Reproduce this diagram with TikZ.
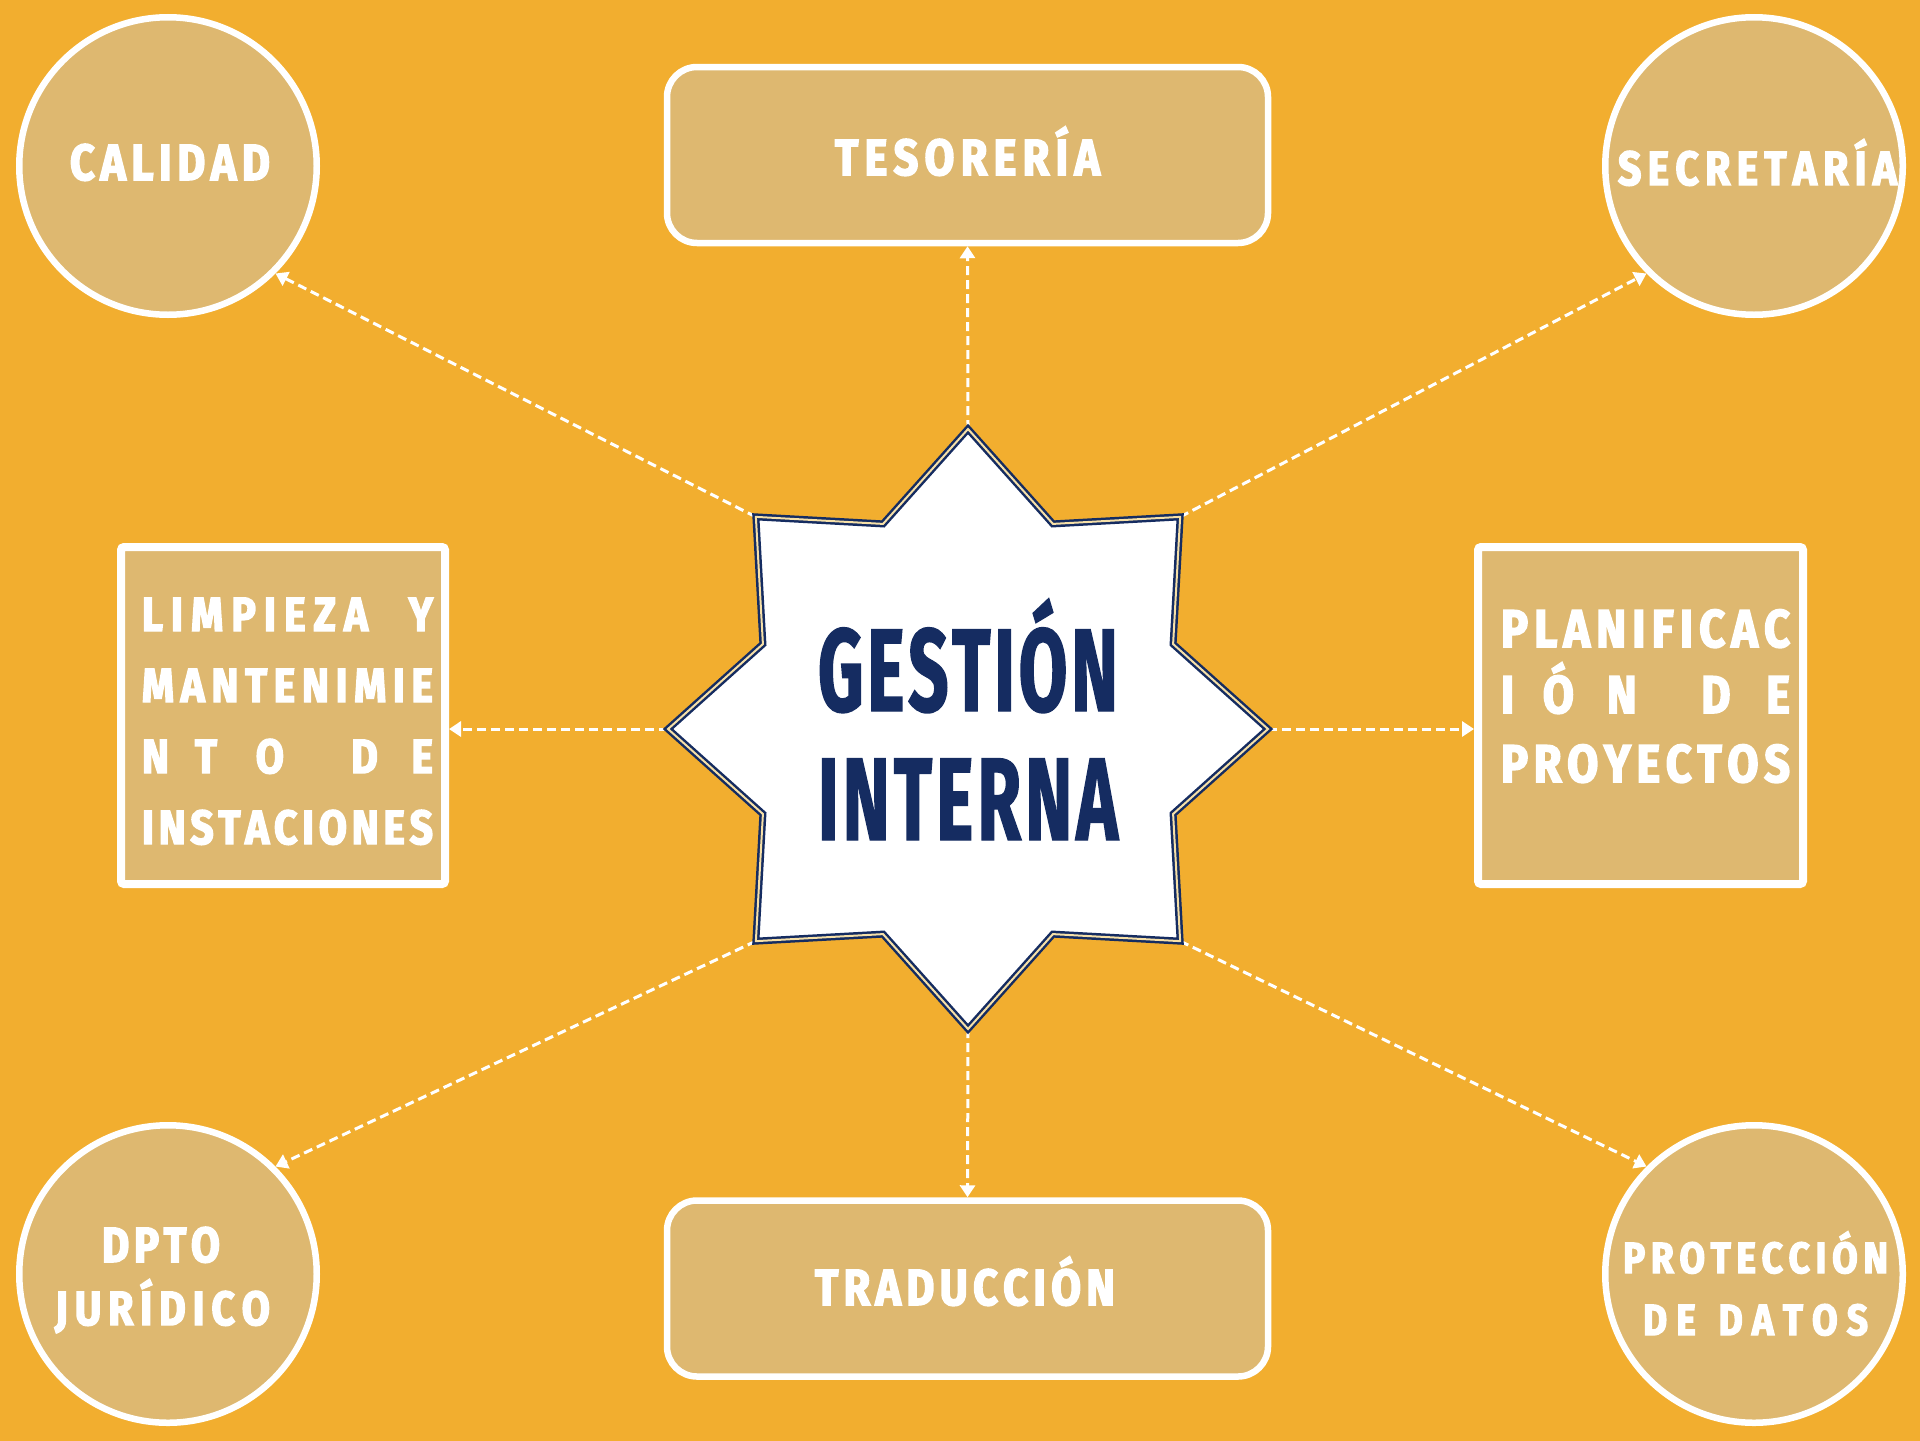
\documentclass[tikz,border=0pt]{standalone}
\usepackage{fontspec}
\usetikzlibrary{arrows.meta}
\newfontfamily\labf{Fira Sans}[FakeStretch=0.85, FakeBold=3]
\newfontfamily\titf{Fira Sans}[FakeStretch=0.6, FakeBold=1.2]
\definecolor{bg}{RGB}{242,174,47}
\definecolor{boxfill}{RGB}{222,184,112}
\definecolor{navy}{RGB}{21,44,97}
\definecolor{cream}{RGB}{246,224,168}
\def\lsp{\hspace{0pt plus 1fill}}
\def\lspw#1{\hspace{0pt plus #1fill}}
\begin{document}
\begin{tikzpicture}[x=0.5pt,y=-0.5pt,
  circ/.style={circle, draw=white, line width=3.25pt, fill=boxfill, minimum size=148.75pt, inner sep=0pt},
  rbox/.style={rectangle, rounded corners=15pt, draw=white, line width=3.25pt, fill=boxfill, minimum width=300.5pt, minimum height=88pt, inner sep=0pt},
  sbox/.style={rectangle, rounded corners=1.5pt, draw=white, line width=4pt, fill=boxfill, inner sep=0pt, minimum height=168.5pt},
  lab/.style={anchor=base, inner sep=0pt, text=white, font=\labf\bfseries\fontsize{#1}{30pt}\selectfont},
  lab/.default=25.4pt,
  tit/.style={anchor=base, inner sep=0pt, text=navy, font=\titf\bfseries\fontsize{58.8pt}{60pt}\selectfont},
  starst/.style={draw=navy, line width=1.25pt, double=cream, double distance=1pt, fill=white, line join=miter},
  conn/.style={draw=white, line width=1.5pt, dash pattern=on 4.5pt off 2.5pt, -{Triangle[length=6pt,width=7.5pt]}}
]
\useasboundingbox (0,0) rectangle (1920,1440);
\fill[bg] (-10,-10) rectangle (1930,1450);
% outer shapes
\node[circ] (calidad) at (168,166) {};
\node[circ] (secret) at (1754,166) {};
\node[circ] (dpto) at (168,1274) {};
\node[circ] (prot) at (1754,1274) {};
\node[rbox] (teso) at (967.5,155) {};
\node[rbox] (trad) at (967.5,1288.5) {};
\node[sbox, minimum width=162pt] (limp) at (283,715.5) {};
\node[sbox, minimum width=162.5pt] (plan) at (1640.5,715.5) {};
% star tips
\coordinate (c) at (968,729);
\foreach \a in {0,45,...,315} \path (c) ++(\a:150pt) coordinate (st\a);
% connectors
\draw[conn] (st90) -- (teso.south);
\draw[conn] (st270) -- (trad.north);
\draw[conn] (st180) -- (st180 -| limp.east);
\draw[conn] (st0) -- (st0 -| plan.west);
\draw[conn] (st135) -- (calidad.-45);
\draw[conn] (st45) -- (secret.-135);
\draw[conn] (st225) -- (dpto.45);
\draw[conn] (st315) -- (prot.135);
% star
\draw[starst, shift={(968,729)}] (0:150pt) \foreach \a in {0,45,...,270} { -- (\a+22.5:111pt) -- (\a+45:150pt) } -- (337.5:111pt) -- cycle;
% labels
\node[lab] (tcal) at (170,180) {\makebox[100pt]{C\lsp A\lsp L\lsp I\lsp D\lsp A\lsp D}};
\node[lab] (tteso) at (967.5,175) {\makebox[132.5pt]{T\lsp E\lsp S\lsp O\lsp R\lsp E\lsp R\lsp Í\lsp A}};
\node[lab=24pt] (tsec) at (1757.5,185) {\makebox[139.5pt]{S\lsp E\lsp C\lsp R\lsp E\lsp T\lsp A\lsp R\lsp Í\lsp A}};
\node[lab=24.7pt] (tdp1) at (161,1262) {\makebox[59pt]{D\lsp P\lsp T\lsp O}};
\node[lab=24pt] (tdp2) at (162.5,1325) {\makebox[107.5pt]{J\lsp U\lsp R\lsp Í\lsp D\lsp I\lsp C\lsp O}};
\node[lab] (ttrad) at (965,1305) {\makebox[150pt]{T\lsp R\lsp A\lsp D\lsp U\lsp C\lsp C\lsp I\lsp Ó\lsp N}};
\node[lab=21.8pt] (tpr1) at (1755.5,1273) {\makebox[132.5pt]{P\lsp R\lsp O\lsp T\lsp E\lsp C\lsp C\lsp I\lsp Ó\lsp N}};
\node[lab=21.8pt] (tpr2) at (1755.5,1335) {\makebox[112.5pt]{D\lsp E\lspw{2.5}D\lsp A\lsp T\lsp O\lsp S}};
% limpieza
\node[lab=24pt] (l1) at (287.5,631) {\makebox[145.5pt]{L\lsp I\lsp M\lsp P\lsp I\lsp E\lsp Z\lsp A\lspw{5}Y}};
\node[lab=24pt] (l2) at (287.5,702) {\makebox[145.5pt]{M\lsp A\lsp N\lsp T\lsp E\lsp N\lsp I\lsp M\lsp I\lsp E}};
\node[lab=24pt] (l3) at (287.5,773) {\makebox[145.5pt]{N\lsp T\lspw{1.5}O\lspw{2.6}D\lspw{1.3}E}};
\node[lab=24pt] (l4) at (287.5,844) {\makebox[145.5pt]{I\lsp N\lsp S\lsp T\lsp A\lsp C\lsp I\lsp O\lsp N\lsp E\lsp S}};
% planificacion
\node[lab=26.5pt] (p1) at (1645.5,647) {\makebox[144.5pt]{P\lsp L\lsp A\lsp N\lsp I\lsp F\lsp I\lsp C\lsp A\lsp C}};
\node[lab=26.5pt] (p2) at (1645.5,713) {\makebox[144.5pt]{I\lsp Ó\lspw{1.15}N\lspw{2.25}D\lspw{1.25}E}};
\node[lab=26.5pt] (p3) at (1645.5,782) {\makebox[144.5pt]{P\lsp R\lsp O\lsp Y\lsp E\lsp C\lsp T\lsp O\lsp S}};
% title
\node[tit] (g1) at (968,711) {\makebox[150pt]{G\lsp E\lsp S\lsp T\lsp I\lsp Ó\lsp N}};
\node[tit] (g2) at (968,840) {\makebox[150pt]{I\lsp N\lsp T\lsp E\lsp R\lsp N\lsp A}};
\end{tikzpicture}
\end{document}
